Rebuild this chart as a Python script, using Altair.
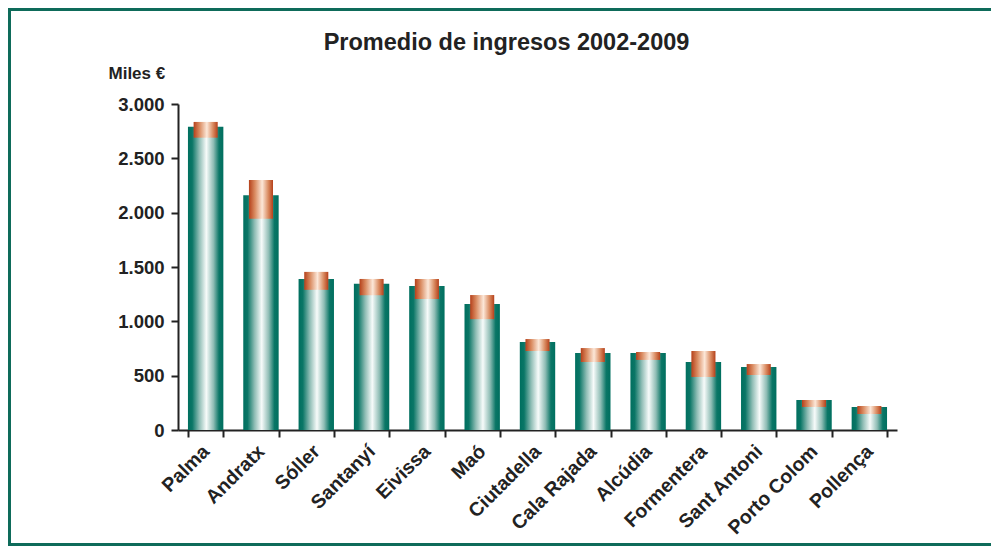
import altair as alt
import pandas as pd

cities = ["Palma", "Andratx", "Sóller", "Santanyí", "Eivissa", "Maó", "Ciutadella",
          "Cala Rajada", "Alcúdia", "Formentera", "Sant Antoni", "Porto Colom", "Pollença"]
promedio = [2790, 2160, 1390, 1345, 1325, 1160, 810, 708, 708, 626, 580, 276, 212]
minimo = [2690, 1945, 1290, 1240, 1205, 1020, 727, 626, 645, 488, 506, 212, 147]
maximo = [2835, 2300, 1455, 1390, 1390, 1242, 837, 754, 718, 727, 607, 276, 221]
y_ticks = [0, 500, 1000, 1500, 2000, 2500, 3000]

df = pd.DataFrame({"city": cities, "avg": promedio, "low": minimo, "high": maximo})

FONT = "Liberation Sans"
TXT = "#222222"
FRAME = "#0e6b5a"

teal = {
    "gradient": "linear", "x1": 0, "x2": 1, "y1": 0, "y2": 0,
    "stops": [
        {"offset": 0.0, "color": "#006f5f"},
        {"offset": 0.12, "color": "#0a7666"},
        {"offset": 0.32, "color": "#8fbdb5"},
        {"offset": 0.52, "color": "#f7fbfa"},
        {"offset": 0.72, "color": "#8fbdb5"},
        {"offset": 0.88, "color": "#0a7666"},
        {"offset": 1.0, "color": "#006f5f"},
    ],
}
orange = {
    "gradient": "linear", "x1": 0, "x2": 1, "y1": 0, "y2": 0,
    "stops": [
        {"offset": 0.0, "color": "#b5401a"},
        {"offset": 0.25, "color": "#da8c62"},
        {"offset": 0.55, "color": "#fce7d8"},
        {"offset": 0.8, "color": "#da8c62"},
        {"offset": 1.0, "color": "#b5401a"},
    ],
}

x_enc = alt.X(
    "city:N", sort=cities, title=None,
    scale=alt.Scale(paddingInner=0.36, paddingOuter=0.18),
    axis=alt.Axis(labelAngle=-45, labelAlign="right", labelBaseline="middle",
                  labelPadding=11, tickBand="extent", tickSize=7, tickWidth=2,
                  tickColor=TXT, domainColor=TXT, domainWidth=2,
                  labelFont=FONT, labelFontSize=19.5, labelFontWeight="bold",
                  labelColor=TXT),
)
y_scale = alt.Scale(domain=[0, 3000], nice=False)

base = alt.Chart(df).encode(x=x_enc)

bars = base.mark_bar(color=teal).encode(
    y=alt.Y("avg:Q", scale=y_scale,
            axis=alt.Axis(values=y_ticks, grid=False, tickSize=7, tickWidth=2,
                          tickColor=TXT, domainColor=TXT, domainWidth=2,
                          labelExpr="replace(format(datum.value, ','), ',', '.')",
                          labelFont=FONT, labelFontSize=18.5, labelFontWeight="bold",
                          labelColor=TXT, labelPadding=7,
                          title="Miles €", titleAngle=0, titleAlign="left",
                          titleBaseline="alphabetic", titleX=-70, titleY=-26,
                          titleFont=FONT, titleFontSize=17, titleFontWeight="bold",
                          titleColor=TXT))
)

boxes = base.mark_bar(color=orange, width=alt.RelativeBandSize(0.68)).encode(
    y=alt.Y("low:Q", scale=y_scale), y2="high:Q"
)

# decorative frame: top, left and bottom strips (running off the right edge)
frame_df = pd.DataFrame({"k": [0]})
top_line = alt.Chart(frame_df).mark_rect(color=FRAME).encode(
    x=alt.value(-170), x2=alt.value(840), y=alt.value(-96), y2=alt.value(-93))
left_line = alt.Chart(frame_df).mark_rect(color=FRAME).encode(
    x=alt.value(-170), x2=alt.value(-167), y=alt.value(-96), y2=alt.value(442))
bottom_line = alt.Chart(frame_df).mark_rect(color=FRAME).encode(
    x=alt.value(-170), x2=alt.value(840), y=alt.value(439), y2=alt.value(442))

chart = alt.layer(bars, boxes, top_line, left_line, bottom_line).properties(
    width=719, height=326,
    title=alt.TitleParams("Promedio de ingresos 2002-2009", font=FONT, fontSize=23.5,
                          fontWeight="bold", color=TXT, anchor="middle", dx=-31,
                          offset=0, dy=46),
    autosize=alt.AutoSizeParams(type="none"),
    padding={"left": 170, "top": 96, "right": 94, "bottom": 116},
).configure(background="white").configure_view(stroke=None)

chart.save("out.html", embed_options={"renderer": "svg", "actions": False})
